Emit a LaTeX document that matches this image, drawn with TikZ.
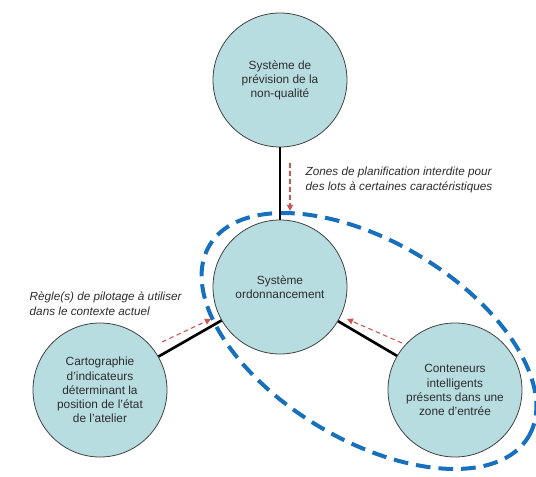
\documentclass[tikz,border=0pt]{standalone}
\usepackage{fontspec}
\setmainfont{Liberation Sans}
\usetikzlibrary{shapes.geometric}
\usetikzlibrary{arrows.meta}
\definecolor{bulle}{RGB}{183,221,225}
\definecolor{zonebleu}{RGB}{22,112,190}
\definecolor{flecher}{RGB}{205,85,80}
\definecolor{texte}{RGB}{45,45,45}
\tikzset{
    sysnode/.style = {circle, draw=black!75, line width=0.6pt, fill=bulle, inner sep=0pt, minimum size=100.5pt, align=center, text=texte, font=\fontsize{8.9}{10.6}\selectfont},
    edgen/.style = {line width=2pt, black},
    edger/.style = {-{Triangle[length=4.5pt,width=4.5pt]}, line width=0.8pt, flecher, dash pattern=on 3.5pt off 2.5pt}, % consigne
    zoneb/.style = {draw=zonebleu, line width=3pt, dash pattern=on 11pt off 6pt, ellipse, inner sep=0pt}, % perimetre
    note/.style = {anchor=west, align=left, text=texte, font=\fontsize{8.8}{11}\selectfont\itshape}
}
\begin{document}
\begin{tikzpicture}[x=0.75pt,y=-0.75pt]
  \useasboundingbox (0,0) rectangle (536,477);

  \node[zoneb, rotate=-31, minimum width=372*0.75pt, minimum height=198*0.75pt] (zone) at (369,341) {};

  \node[sysnode] (prev) at (280,80) {Système de\\prévision de la\\non-qualité};
  \node[sysnode] (ordo) at (280,287) {Système\\ordonnancement};
  \node[sysnode] (carto) at (100,390) {Cartographie\\d’indicateurs\\déterminant la\\position de l’état\\de l’atelier};
  \node[sysnode] (cont) at (455,390) {Conteneurs\\intelligents\\présents dans une\\zone d’entrée};

  \draw[edgen] (prev) -- (ordo);
  \draw[edgen] (carto) -- (ordo);
  \draw[edgen] (cont) -- (ordo);

  \coordinate (z1) at (290,163);
  \coordinate (z2) at (290,211);
  \coordinate (r1) at (162,342);
  \coordinate (r2) at (211,319);
  \coordinate (c1) at (402,343);
  \coordinate (c2) at (347,319);
  \draw[edger] (z1) -- (z2);
  \draw[edger] (r1) -- (r2);
  \draw[edger] (c1) -- (c2);

  \node[note] (zlab) at (301,180) {Zones de planification interdite pour\\des lots à certaines caractéristiques};
  \node[note] (rlab) at (25,304) {Règle(s) de pilotage à utiliser\\dans le contexte actuel};
\end{tikzpicture}
\end{document}
